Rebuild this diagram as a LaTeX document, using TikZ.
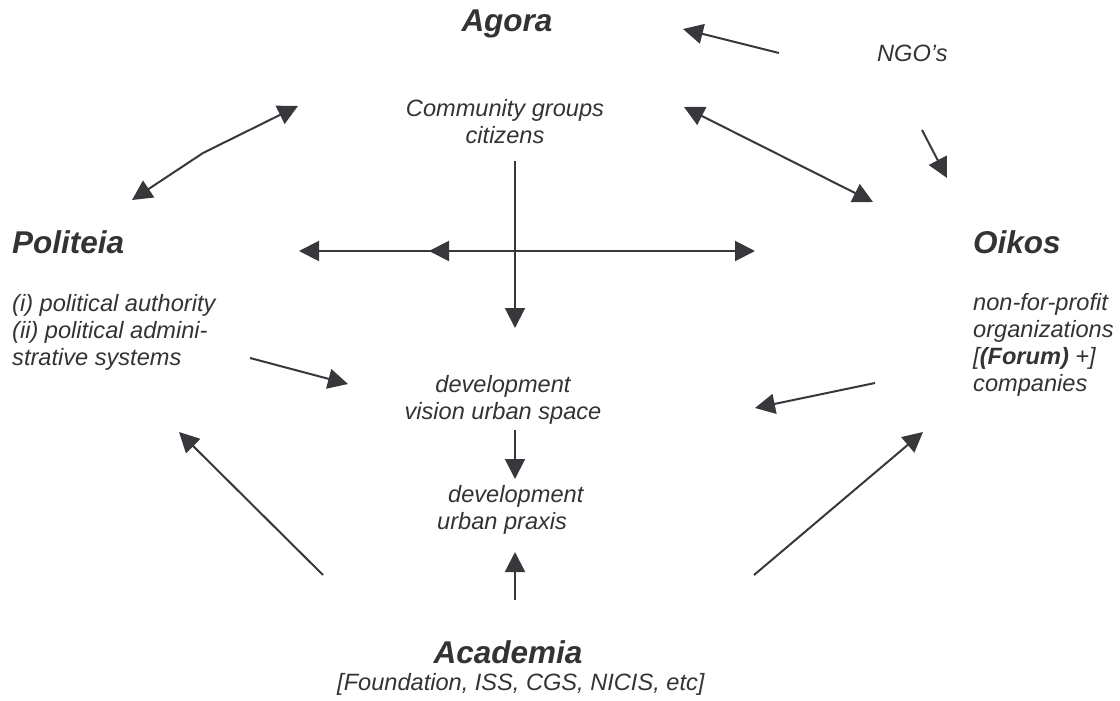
\documentclass[tikz,border=0pt]{standalone}
\usepackage{fontspec}
\setmainfont{Liberation Sans}
\usetikzlibrary{arrows.meta}
\definecolor{ink}{HTML}{333336}
\definecolor{arr}{HTML}{38383C}
\tikzset{
  small/.style={font=\fontsize{23.6}{26.7}\selectfont\itshape, text=ink, inner sep=0pt},
  big/.style={font=\fontsize{31.5}{35}\selectfont\bfseries\itshape, text=ink, inner sep=0pt},
  conn/.style={draw=arr, line width=2pt, -{Triangle[length=20pt,width=20pt]}},
  conn2/.style={draw=arr, line width=2pt, {Triangle[length=20pt,width=20pt]}-{Triangle[length=20pt,width=20pt]}}
}
\begin{document}
\begin{tikzpicture}[x=1pt,y=-1pt]
\useasboundingbox (0,0) rectangle (1120,701);
% texts (multi-line nodes: base anchor = last line's baseline)
\node[big, anchor=base] (agora) at (507,32) {Agora};
\node[small, anchor=base west] (ngo) at (877,62) {NGO’s};
\node[small, anchor=base, align=center] (community) at (505,143) {Community groups\\citizens};
\node[big, anchor=base west] (politeia) at (12,253) {Politeia};
\node[small, anchor=base west, align=left] (polsub) at (12,365) {(i) political authority\\(ii) political admini-\\strative systems};
\node[big, anchor=base west] (oikos) at (973,253) {Oikos};
\node[small, anchor=base west, align=left] (oikossub) at (973,391) {non-for-profit\\organizations\\{[}\textbf{(Forum)} +{]}\\companies};
\node[small, anchor=base, align=center] (vision) at (503,419) {development\\vision urban space};
\node[small, anchor=base west, align=left] (praxis) at (437,529) {\hspace{11pt}development\\urban praxis};
\node[big, anchor=base] (academia) at (508,663) {Academia};
\node[small, anchor=base west] (acasub) at (337,690) {{[}Foundation, ISS, CGS, NICIS, etc{]}};
% connector end points
\coordinate (pa1) at (132,200);
\coordinate (pa2) at (203,153);
\coordinate (pa3) at (298,106);
\coordinate (ngoT) at (779,53);
\coordinate (ngoH) at (683,29);
\coordinate (coA) at (684,107);
\coordinate (coB) at (873,202);
\coordinate (ngdT) at (922,130);
\coordinate (ngdH) at (947,178);
\coordinate (hc) at (490,251);
\coordinate (hl) at (299,251);
\coordinate (hm) at (429,251);
\coordinate (hr) at (755,251);
\coordinate (vT) at (515,161);
\coordinate (vH) at (515,328);
\coordinate (plT) at (250,358);
\coordinate (plH) at (348,384);
\coordinate (okT) at (875,383);
\coordinate (okH) at (755,408);
\coordinate (dvT) at (515,430);
\coordinate (dvH) at (515,479);
\coordinate (acT) at (515,600);
\coordinate (acH) at (515,552);
\coordinate (blT) at (323,575);
\coordinate (blH) at (179,432);
\coordinate (brT) at (754,575);
\coordinate (brH) at (923,432);
% connectors
\draw[conn2] (pa1) -- (pa2) -- (pa3);
\draw[conn] (ngoT) -- (ngoH);
\draw[conn2] (coA) -- (coB);
\draw[conn] (ngdT) -- (ngdH);
\draw[conn] (hc) -- (hl);
\draw[conn] (hc) -- (hm);
\draw[conn] (hc) -- (hr);
\draw[conn] (vT) -- (vH);
\draw[conn] (plT) -- (plH);
\draw[conn] (okT) -- (okH);
\draw[conn] (dvT) -- (dvH);
\draw[conn] (acT) -- (acH);
\draw[conn] (blT) -- (blH);
\draw[conn] (brT) -- (brH);
\end{tikzpicture}
\end{document}
